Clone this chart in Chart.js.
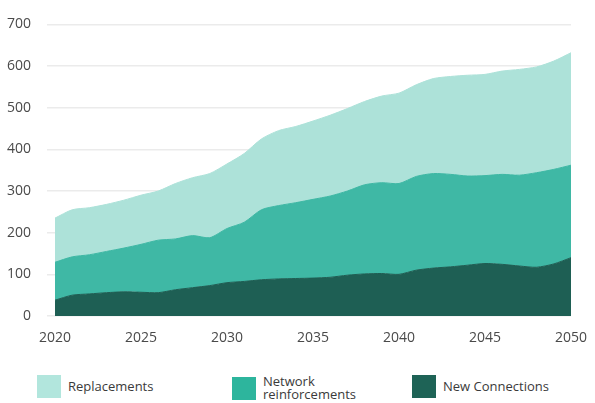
<!DOCTYPE html>
<html>
<head>
<meta charset="utf-8">
<script src="https://cdn.jsdelivr.net/npm/chart.js@4/dist/chart.umd.min.js"></script>
<style>
	body { margin: 0; background: #fff; font-family: 'Open Sans', sans-serif; }
	.wrap { position: relative; width: 595px; height: 403px; }
	.chart-box { position: absolute; left: 0; top: 0; width: 595px; height: 345px; }
	.legend-item { position: absolute; display: flex; align-items: center; font-size: 13px; color: #3a3a3a; line-height: 13px; }
	.swatch { width: 24px; height: 23px; margin-right: 7px; flex: none; }
</style>
</head>
<body>
<div class="wrap">
	<div class="chart-box"><canvas class="network-chart"></canvas></div>
	<div class="legend-item" style="left:37px; top:375px;"><span class="swatch" style="background:#b2e6dd"></span>Replacements</div>
	<div class="legend-item" style="left:232px; top:375px;"><span class="swatch" style="background:#2db59d"></span>Network<br>reinforcements</div>
	<div class="legend-item" style="left:412px; top:375px;"><span class="swatch" style="background:#1e6356"></span>New Connections</div>
</div>
<script>
const years = [2020, 2021, 2022, 2023, 2024, 2025, 2026, 2027, 2028, 2029, 2030,
	2031, 2032, 2033, 2034, 2035, 2036, 2037, 2038, 2039, 2040,
	2041, 2042, 2043, 2044, 2045, 2046, 2047, 2048, 2049, 2050];

const newConnections = [38, 50, 53, 56, 58, 57, 56, 63, 68, 73, 80,
	83, 87, 89, 90, 91, 93, 98, 101, 102, 100,
	110, 115, 118, 122, 126, 124, 120, 117, 125, 140];

const networkReinforcements = [91, 92, 94, 99, 105, 115, 126, 122, 125, 115, 130,
	142, 168, 176, 182, 189, 195, 202, 214, 218, 218,
	225, 227, 222, 214, 211, 216, 218, 227, 227, 222];

const replacements = [106, 113, 113, 113, 115, 118, 118, 133, 139, 154, 155,
	165, 170, 180, 183, 188, 194, 198, 200, 208, 217,
	220, 228, 235, 242, 243, 248, 254, 254, 260, 270];

const yTicks = [0, 100, 200, 300, 400, 500, 600, 700];

const toPoints = function (values) {
	return years.map((y, i) => ({ x: y, y: values[i] }));
};

const makeSet = function (label, values, color, fill) {
	return {
		label: label,
		data: toPoints(values),
		backgroundColor: color,
		borderColor: color,
		borderWidth: 1,
		pointRadius: 0,
		tension: 0.25,
		fill: fill,
	};
};

const createChart = function () {
	const tickFont = { family: 'Open Sans', size: 14 };
	const config = {
		type: 'line',
		data: {
			datasets: [
				makeSet('New Connections', newConnections, '#1e5f54', 'origin'),
				makeSet('Network reinforcements', networkReinforcements, '#3fb8a5', '-1'),
				makeSet('Replacements', replacements, '#ade2d9', '-1'),
			],
		},
		options: {
			responsive: true,
			maintainAspectRatio: false,
			animation: false,
			layout: { padding: { top: 22, right: 24, left: 0, bottom: 0 } },
			plugins: {
				legend: { display: false },
				tooltip: { enabled: false },
			},
			scales: {
				x: {
					type: 'linear',
					min: years[0],
					max: years[years.length - 1],
					grid: { display: false },
					border: { display: false },
					ticks: {
						stepSize: 5,
						color: '#4a4a4a',
						font: tickFont,
						padding: 6,
						maxRotation: 0,
						callback: (v) => String(v),
					},
					afterFit: (s) => { s.height = 29; },
				},
				y: {
					stacked: true,
					min: 0,
					max: 700,
					afterBuildTicks: (s) => { s.ticks = yTicks.map((v) => ({ value: v })); },
					grid: { color: '#ebebeb', lineWidth: 1.5 },
					border: { display: false },
					ticks: {
						color: '#4a4a4a',
						font: tickFont,
						padding: 16,
					},
					afterFit: (s) => { s.width = 55; },
				},
			},
		},
	};

	const ctx = document.querySelector('.network-chart');
	new Chart(ctx, config);
};

document.addEventListener('DOMContentLoaded', createChart);
</script>
</body>
</html>
